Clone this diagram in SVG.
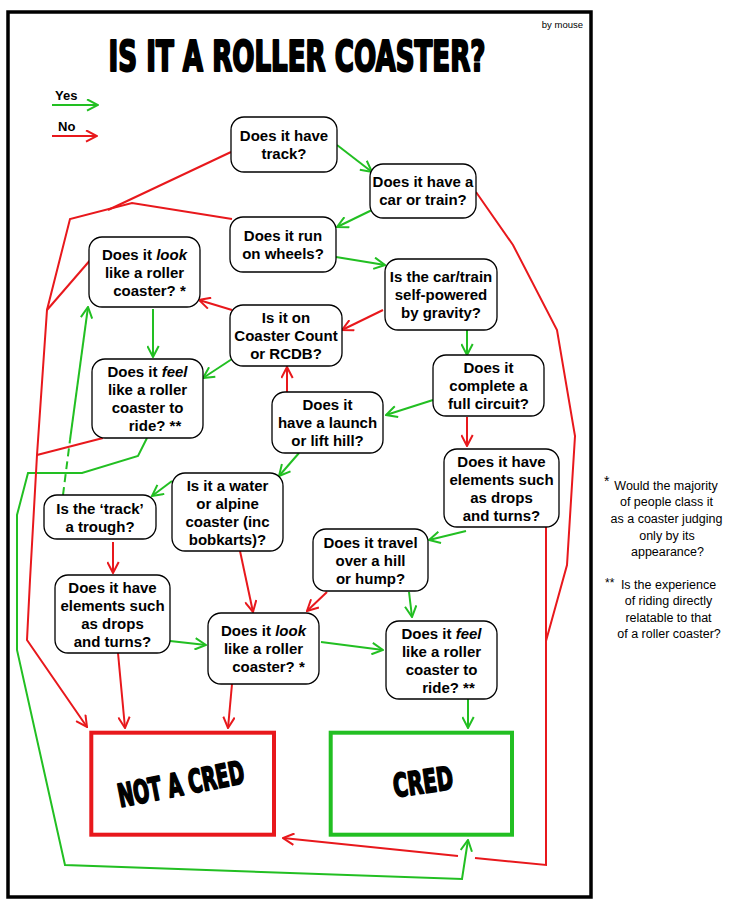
<svg xmlns="http://www.w3.org/2000/svg" width="742" height="909" viewBox="0 0 742 909">
<style>
.node rect{fill:#fff;stroke:#000;stroke-width:1.3}
.node text{font-family:"Liberation Sans",Arial,sans-serif;font-weight:bold;font-size:15px;fill:#000;text-anchor:middle}
.g{fill:none;stroke:#22bf22;stroke-width:2;marker-end:url(#ag)}
.r{fill:none;stroke:#e8181c;stroke-width:2;marker-end:url(#ar)}
.gl{fill:none;stroke:#22bf22;stroke-width:2}
.rl{fill:none;stroke:#e8181c;stroke-width:2}
.fn{font-family:"Liberation Sans",Arial,sans-serif;font-size:12.5px;fill:#000;text-anchor:middle}
.big{font-family:"DejaVu Sans Condensed","DejaVu Sans",sans-serif;font-weight:bold;fill:#000;stroke:#000;stroke-linejoin:round}
.leg{font-family:"Liberation Sans",Arial,sans-serif;font-weight:bold;font-size:13px;fill:#000}
</style>
<defs>
<marker id="ag" viewBox="0 0 13 13" refX="12" refY="6.5" markerWidth="13" markerHeight="13" markerUnits="userSpaceOnUse" orient="auto"><path d="M1,0.8 L12,6.5 L1,12.2" fill="none" stroke="#22bf22" stroke-width="2"/></marker>
<marker id="ar" viewBox="0 0 13 13" refX="12" refY="6.5" markerWidth="13" markerHeight="13" markerUnits="userSpaceOnUse" orient="auto"><path d="M1,0.8 L12,6.5 L1,12.2" fill="none" stroke="#e8181c" stroke-width="2"/></marker>
</defs>
<rect x="0" y="0" width="742" height="909" fill="#fff"/>
<rect x="8" y="12" width="583" height="885" fill="none" stroke="#000" stroke-width="3.5"/>
<text x="583" y="28" font-family="Liberation Sans, Arial, sans-serif" font-size="9.5" text-anchor="end">by mouse</text>
<text class="big" transform="translate(297,71) scale(0.6,1)" font-size="43" stroke-width="2.2" text-anchor="middle" textLength="628" lengthAdjust="spacingAndGlyphs">IS IT A ROLLER COASTER?</text>

<g id="legend">
<text class="leg" x="55" y="100">Yes</text>
<path class="g" d="M52,105 L98,105"/>
<text class="leg" x="58" y="131">No</text>
<path class="r" d="M52,136 L97,136"/>
</g>

<g id="connectors">
<path class="g" d="M337,145 L372,172"/>
<path class="g" d="M372,210 L337,227"/>
<path class="g" d="M336,257 L385,265"/>
<path class="g" d="M153,309 L153,357"/>
<path class="g" d="M232,359 L203,378"/>
<path class="g" d="M467,330 L467,355"/>
<path class="g" d="M433,400 L386,415"/>
<path class="g" d="M299,453 L279,476"/>
<path class="g" d="M172,481 L152,496"/>
<path class="gl" d="M63,495 L70,440" stroke-dasharray="8,5"/>
<path class="g" d="M70,440 L88,307"/>
<path class="g" d="M409,592 L412,617"/>
<path class="g" d="M466,531 L429,540"/>
<path class="g" d="M170,641 L206,645"/>
<path class="g" d="M321,642 L383,650"/>
<path class="g" d="M468,699 L468,728"/>
<path class="g" d="M147,438 L138,456 L82,473 L28,473 L17,515 L17,650 L65,865 L462,879 L468,840"/>

<path class="rl" d="M231,152 L108,210"/>
<path class="r" d="M232,219 L132,203 L70,219 L47,310 L37,455 L30,580 L27,640 L87,727"/>
<path class="rl" d="M92,258 L47,310"/>
<path class="rl" d="M103,438 L37,455"/>
<path class="rl" d="M476,192 L513,245 L557,330 L575,436 L567,565 L546,641"/>
<path class="r" d="M546,527 L546,865 L475,858 M458,856 L283,838"/>
<path class="r" d="M383,310 L342,330"/>
<path class="r" d="M232,310 L199,300"/>
<path class="r" d="M467,417 L467,446"/>
<path class="r" d="M287,392 L287,367"/>
<path class="r" d="M113,542 L113,573"/>
<path class="r" d="M240,551 L253,612"/>
<path class="r" d="M327,592 L307,611"/>
<path class="r" d="M118,653 L125,728"/>
<path class="r" d="M232,684 L228,728"/>
</g>

<g id="n-track" class="node"><rect x="231" y="117" width="106" height="55" rx="13"/>
<text x="284" y="141">Does it have</text><text x="284" y="159">track?</text></g>
<g id="n-car" class="node"><rect x="370" y="164" width="106" height="54" rx="13"/>
<text x="423" y="187">Does it have a</text><text x="423" y="205">car or train?</text></g>
<g id="n-wheels" class="node"><rect x="230" y="217" width="106" height="55" rx="13"/>
<text x="283" y="241">Does it run</text><text x="283" y="259">on wheels?</text></g>
<g id="n-look1" class="node"><rect x="89" y="237" width="111" height="70" rx="13"/>
<text x="144.5" y="259.5">Does it <tspan font-style="italic">look</tspan></text><text x="144.5" y="277.5">like a roller</text><text x="149.5" y="295.5">coaster? *</text></g>
<g id="n-self" class="node"><rect x="385" y="259" width="112" height="71" rx="13"/>
<text x="441" y="282">Is the car/train</text><text x="441" y="300">self-powered</text><text x="441" y="318">by gravity?</text></g>
<g id="n-count" class="node"><rect x="230" y="305" width="112" height="61" rx="13"/>
<text x="286" y="323">Is it on</text><text x="286" y="341">Coaster Count</text><text x="286" y="359">or RCDB?</text></g>
<g id="n-feel1" class="node"><rect x="92" y="359" width="111" height="79" rx="13"/>
<text x="147.5" y="377">Does it <tspan font-style="italic">feel</tspan></text><text x="147.5" y="395">like a roller</text><text x="147.5" y="413">coaster to</text><text x="155" y="431">ride? **</text></g>
<g id="n-circuit" class="node"><rect x="433" y="355" width="111" height="61" rx="13"/>
<text x="488.5" y="373">Does it</text><text x="488.5" y="391">complete a</text><text x="488.5" y="409">full circuit?</text></g>
<g id="n-launch" class="node"><rect x="272" y="392" width="111" height="61" rx="13"/>
<text x="327.5" y="410">Does it</text><text x="327.5" y="428">have a launch</text><text x="327.5" y="446">or lift hill?</text></g>
<g id="n-elem1" class="node"><rect x="444" y="449" width="115" height="78" rx="13"/>
<text x="501.5" y="466.5">Does it have</text><text x="501.5" y="484.5">elements such</text><text x="501.5" y="502.5">as drops</text><text x="501.5" y="520.5">and turns?</text></g>
<g id="n-trough" class="node"><rect x="44" y="495" width="112" height="44" rx="13"/>
<text x="100" y="513.5">Is the ‘track’</text><text x="100" y="531.5">a trough?</text></g>
<g id="n-water" class="node"><rect x="172" y="473" width="111" height="78" rx="13"/>
<text x="227.5" y="490.5">Is it a water</text><text x="227.5" y="508.5">or alpine</text><text x="227.5" y="526.5">coaster (inc</text><text x="227.5" y="544.5">bobkarts)?</text></g>
<g id="n-travel" class="node"><rect x="313" y="529" width="115" height="62" rx="13"/>
<text x="370.5" y="547.5">Does it travel</text><text x="370.5" y="565.5">over a hill</text><text x="370.5" y="583.5">or hump?</text></g>
<g id="n-elem2" class="node"><rect x="55" y="575" width="115" height="78" rx="13"/>
<text x="112.5" y="592.5">Does it have</text><text x="112.5" y="610.5">elements such</text><text x="112.5" y="628.5">as drops</text><text x="112.5" y="646.5">and turns?</text></g>
<g id="n-look2" class="node"><rect x="208" y="613" width="111" height="71" rx="13"/>
<text x="263.5" y="636">Does it <tspan font-style="italic">look</tspan></text><text x="263.5" y="654">like a roller</text><text x="268.5" y="672">coaster? *</text></g>
<g id="n-feel2" class="node"><rect x="386" y="621" width="111" height="78" rx="13"/>
<text x="441.5" y="638.5">Does it <tspan font-style="italic">feel</tspan></text><text x="441.5" y="656.5">like a roller</text><text x="441.5" y="674.5">coaster to</text><text x="448.5" y="692.5">ride? **</text></g>

<g id="n-notcred"><rect x="91.3" y="732.7" width="182.7" height="102" fill="#fff" stroke="#e8181c" stroke-width="4"/>
<text class="big" transform="translate(183,795) rotate(-11) scale(0.7,1)" font-size="32" stroke-width="1.8" text-anchor="middle" textLength="183" lengthAdjust="spacingAndGlyphs">NOT A CRED</text></g>
<g id="n-cred"><rect x="330.7" y="732.7" width="181.3" height="102" fill="#fff" stroke="#22bf22" stroke-width="4"/>
<text class="big" transform="translate(424.5,793) rotate(-8) scale(0.7,1)" font-size="32" stroke-width="1.8" text-anchor="middle" textLength="86" lengthAdjust="spacingAndGlyphs">CRED</text></g>

<g id="footnotes">
<text x="604" y="486" font-family="Liberation Sans, Arial, sans-serif" font-size="14">*</text>
<text class="fn" x="666" y="489.5">Would the majority</text>
<text class="fn" x="666.5" y="506">of people class it</text>
<text class="fn" x="666.5" y="523">as a coaster judging</text>
<text class="fn" x="667" y="539.5">only by its</text>
<text class="fn" x="667.5" y="556">appearance?</text>
<text x="605" y="587" font-family="Liberation Sans, Arial, sans-serif" font-size="12">**</text>
<text class="fn" x="668.5" y="588.5">Is the experience</text>
<text class="fn" x="668.5" y="605">of riding directly</text>
<text class="fn" x="668.5" y="621.5">relatable to that</text>
<text class="fn" x="669" y="638">of a roller coaster?</text>
</g>
</svg>
